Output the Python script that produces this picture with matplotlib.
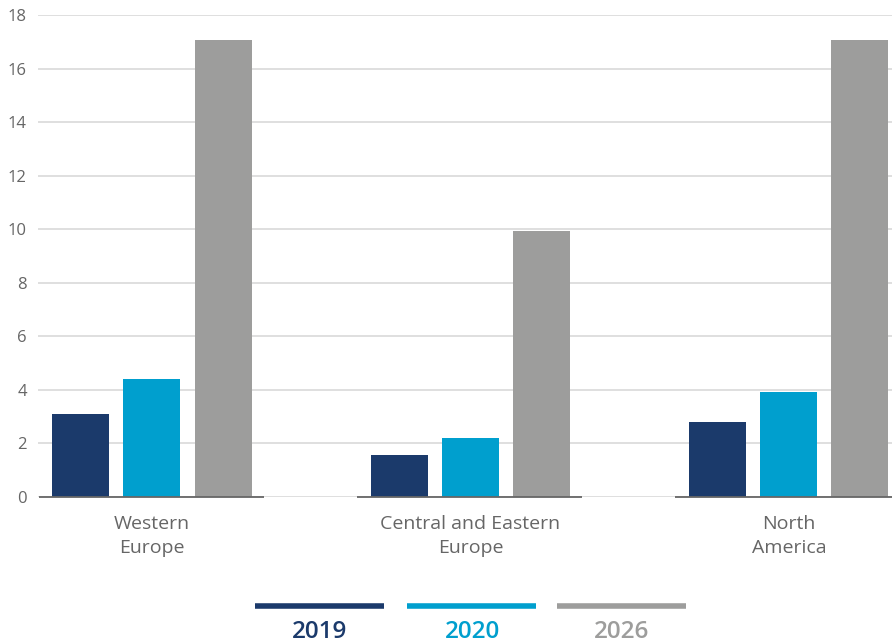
import numpy as np
import matplotlib.pyplot as plt
from matplotlib.lines import Line2D

plt.rcParams['font.family'] = ['Open Sans', 'DejaVu Sans']

# data
regions = ['Western\nEurope', 'Central and Eastern\nEurope', 'North\nAmerica']
years = ['2019', '2020', '2026']
values_2019 = [3.1, 1.55, 2.8]
values_2020 = [4.4, 2.2, 3.92]
values_2026 = [17.05, 9.95, 17.05]
colors = ['#1b3a6b', '#009fce', '#9d9d9c']

W, H = 892, 644
fig = plt.figure(figsize=(W / 100, H / 100), dpi=100)
ax = fig.add_axes([38 / W, 1 - 497 / H, 1 - 38 / W, (497 - 15) / H])

x = np.arange(len(regions))
pitch = 0.2233
width = 0.179
for i, (vals, c) in enumerate(zip([values_2019, values_2020, values_2026], colors)):
    ax.bar(x + (i - 1) * pitch, vals, width=width, color=c, zorder=3)

ax.set_ylim(0, 18)
ax.set_xlim(-0.358, 2.324)
ax.set_yticks(np.arange(0, 19, 2))
ax.yaxis.grid(True, color='#d9d9d9', linewidth=1.2, zorder=0)
ax.set_axisbelow(True)
for s in ax.spines.values():
    s.set_visible(False)
ax.tick_params(axis='y', length=0, pad=8, labelsize=12, labelcolor='#666666')
ax.tick_params(axis='x', length=0, pad=13, labelsize=14, labelcolor='#666666')
ax.set_xticks(x)
ax.set_xticklabels(regions, linespacing=1.45)

# broken baseline under each group
for xi in x:
    ax.plot([xi - 0.356, xi + 0.352], [0, 0], color='#666666', linewidth=1.3,
            zorder=4, clip_on=False, solid_capstyle='butt')

# legend: thick line with bold label underneath
leg_x = [255, 407, 557]
for lx, lab, c in zip(leg_x, years, colors):
    fig.add_artist(Line2D([lx / W, (lx + 129) / W], [1 - 606 / H, 1 - 606 / H],
                          color=c, linewidth=4, solid_capstyle='butt'))
    fig.text((lx + 65) / W, 1 - 620 / H, lab, color=c, fontsize=17.5,
             fontweight='semibold', ha='center', va='top')

fig.savefig('out.png', dpi=100)
